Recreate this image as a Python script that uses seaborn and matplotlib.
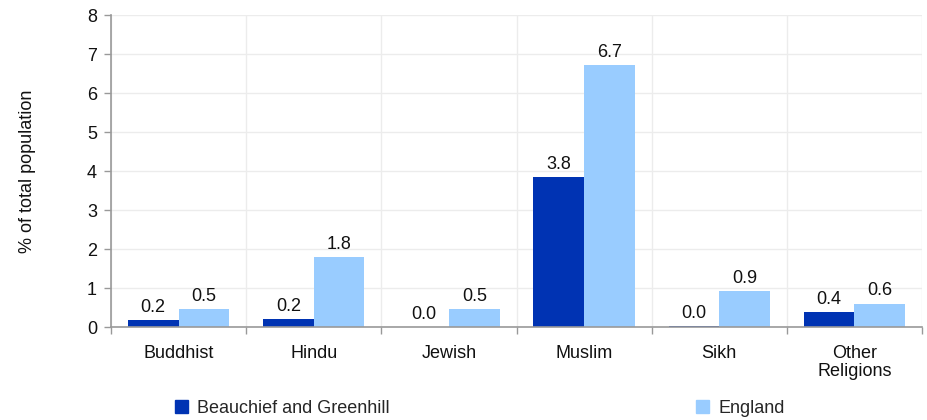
import pandas as pd
import numpy as np
import matplotlib
matplotlib.use('Agg')
import matplotlib.pyplot as plt
import seaborn as sns

# data
religions = ['Buddhist', 'Hindu', 'Jewish', 'Muslim', 'Sikh', 'Other\nReligions']
beauchief = [0.18, 0.21, 0.0, 3.84, 0.03, 0.38]
england = [0.47, 1.79, 0.47, 6.72, 0.93, 0.60]
series = ['Beauchief and Greenhill', 'England']
colors = ['#0033b3', '#99ccff']

df = pd.DataFrame({
    'religion': religions * 2,
    'area': [series[0]] * len(religions) + [series[1]] * len(religions),
    'pct': beauchief + england,
})

sns.set_theme(style='white')
plt.rcParams['font.family'] = ['Liberation Sans', 'DejaVu Sans']

fig = plt.figure(figsize=(9.28, 4.2), dpi=100)
ax = fig.add_axes([0.1196, 0.2214, 0.874, 0.7426])

sns.barplot(data=df, x='religion', y='pct', hue='area', palette=colors,
            width=0.75, gap=0, saturation=1, linewidth=0, ax=ax, legend=False)

for cont in ax.containers:
    ax.bar_label(cont, fmt='%.1f', padding=3, fontsize=13, color='#111111')

ax.set_ylim(0, 8)
ax.set_xlim(-0.5, len(religions) - 0.5)
ax.set_yticks(range(0, 9))
ax.set_xticks(range(len(religions)))
ax.set_xticklabels(religions, fontsize=13, color='#111111', linespacing=1.1)
ax.tick_params(axis='y', labelsize=13, labelcolor='#111111', length=5,
               color='#999999', width=1, direction='out', left=True, pad=5)
ax.tick_params(axis='x', length=0, pad=13)

# category boundary ticks and vertical grid lines
bounds = np.arange(-0.5, len(religions), 1.0)
ax.set_xticks(bounds, minor=True)
ax.tick_params(axis='x', which='minor', length=5, color='#999999', width=1, bottom=True)
ax.grid(axis='y', color='#ececec', linewidth=1)
ax.grid(axis='x', which='minor', color='#ececec', linewidth=1)
ax.set_axisbelow(True)

for side in ['top', 'right']:
    ax.spines[side].set_visible(False)
for side in ['left', 'bottom']:
    ax.spines[side].set_color('#999999')
    ax.spines[side].set_linewidth(1.2)

ax.set_xlabel('')
ax.set_ylabel('% of total population', fontsize=13, color='#111111', labelpad=37)

handles = [plt.Rectangle((0, 0), 1, 1, color=c) for c in colors]
fig.legend(handles, series, loc='center', bbox_to_anchor=(0.517, 0.028), ncol=2,
           frameon=False, fontsize=13, handlelength=0.7, handleheight=0.7,
           handletextpad=0.5, columnspacing=17)

fig.savefig('out.png', dpi=100)
